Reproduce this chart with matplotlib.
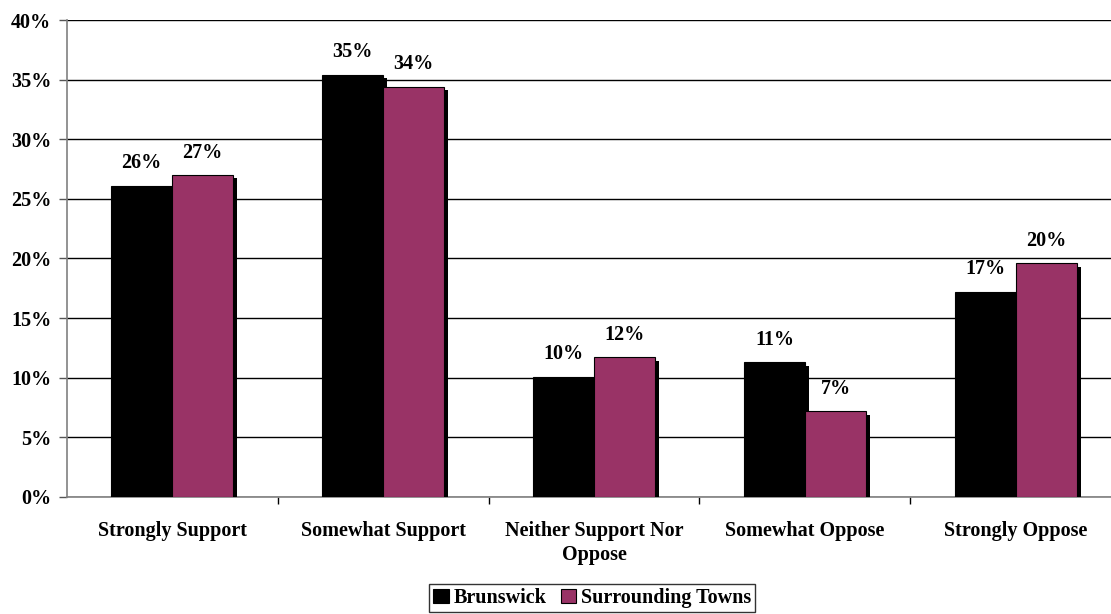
import numpy as np
import matplotlib
matplotlib.use('Agg')
from matplotlib import pyplot as plt
from matplotlib import patheffects as pe
from matplotlib.ticker import FixedLocator

#Data
categories = ['Strongly Support', 'Somewhat Support', 'Neither Support Nor\nOppose',
              'Somewhat Oppose', 'Strongly Oppose']
brunswick = [26.1, 35.4, 10.1, 11.3, 17.2]
surrounding = [27.0, 34.4, 11.7, 7.2, 19.6]
brunswick_labels = ['26%', '35%', '10%', '11%', '17%']
surrounding_labels = ['27%', '34%', '12%', '7%', '20%']

plt.rcParams['font.family'] = ['Liberation Serif', 'DejaVu Serif']
plt.rcParams['font.weight'] = 'bold'
fs = 14.5

fig = plt.figure(figsize=(11.11, 6.14), dpi=100)
ax = fig.add_axes([0.0599, 0.1906, 0.9495, 0.7768])

x = np.arange(len(categories))
w = 0.29
shadow = [pe.SimplePatchShadow(offset=(3, -2.5), shadow_rgbFace='black', alpha=1.0), pe.Normal()]

b1 = ax.bar(x - w/2, brunswick, w, color='black', edgecolor='black', linewidth=0.8,
            label='Brunswick', zorder=3)
b2 = ax.bar(x + w/2, surrounding, w, color='#993366', edgecolor='black', linewidth=0.8,
            label='Surrounding Towns', zorder=3)
for bars in (b1, b2):
    for p in bars:
        p.set_path_effects(shadow)

#value labels above the bars
for i in range(len(categories)):
    ax.text(x[i] - w/2, brunswick[i] + 1.05, brunswick_labels[i], ha='center', va='bottom',
            fontsize=fs, fontweight='bold')
    ax.text(x[i] + w/2, surrounding[i] + 1.05, surrounding_labels[i], ha='center', va='bottom',
            fontsize=fs, fontweight='bold')

ax.set_ylim(0, 40)
ax.set_xlim(-0.5, len(categories) - 0.5)
ax.set_yticks(np.arange(0, 41, 5))
ax.set_yticklabels(['%d%%' % v for v in range(0, 41, 5)], fontsize=fs, fontweight='bold')
ax.set_xticks(x)
ax.set_xticklabels(categories, fontsize=fs, fontweight='bold', linespacing=1.3)
ax.tick_params(axis='x', length=0, pad=17)
ax.xaxis.set_minor_locator(FixedLocator(x[:-1] + 0.5))
ax.tick_params(axis='x', which='minor', length=5, color='black', width=1)
ax.tick_params(axis='y', length=6, color='#555555', width=1, pad=5)
ax.grid(axis='y', color='black', linewidth=1, zorder=0)
ax.set_axisbelow(True)
for s in ['top', 'right']:
    ax.spines[s].set_visible(False)
ax.spines['left'].set_color('#808080')
ax.spines['bottom'].set_color('#808080')
ax.spines['left'].set_linewidth(1.2)
ax.spines['bottom'].set_linewidth(1.2)

leg = fig.legend(handles=[b1, b2], loc='lower center', bbox_to_anchor=(0.533, 0.0), ncol=2,
                 frameon=True, fancybox=False, edgecolor='black',
                 handlelength=0.75, handleheight=0.75, handletextpad=0.25, columnspacing=0.7,
                 borderpad=0.2, borderaxespad=0.1, prop={'weight': 'bold', 'size': fs})
leg.get_frame().set_linewidth(1)
for h in leg.legend_handles:
    h.set_path_effects([])

fig.savefig('out.png', dpi=100)
